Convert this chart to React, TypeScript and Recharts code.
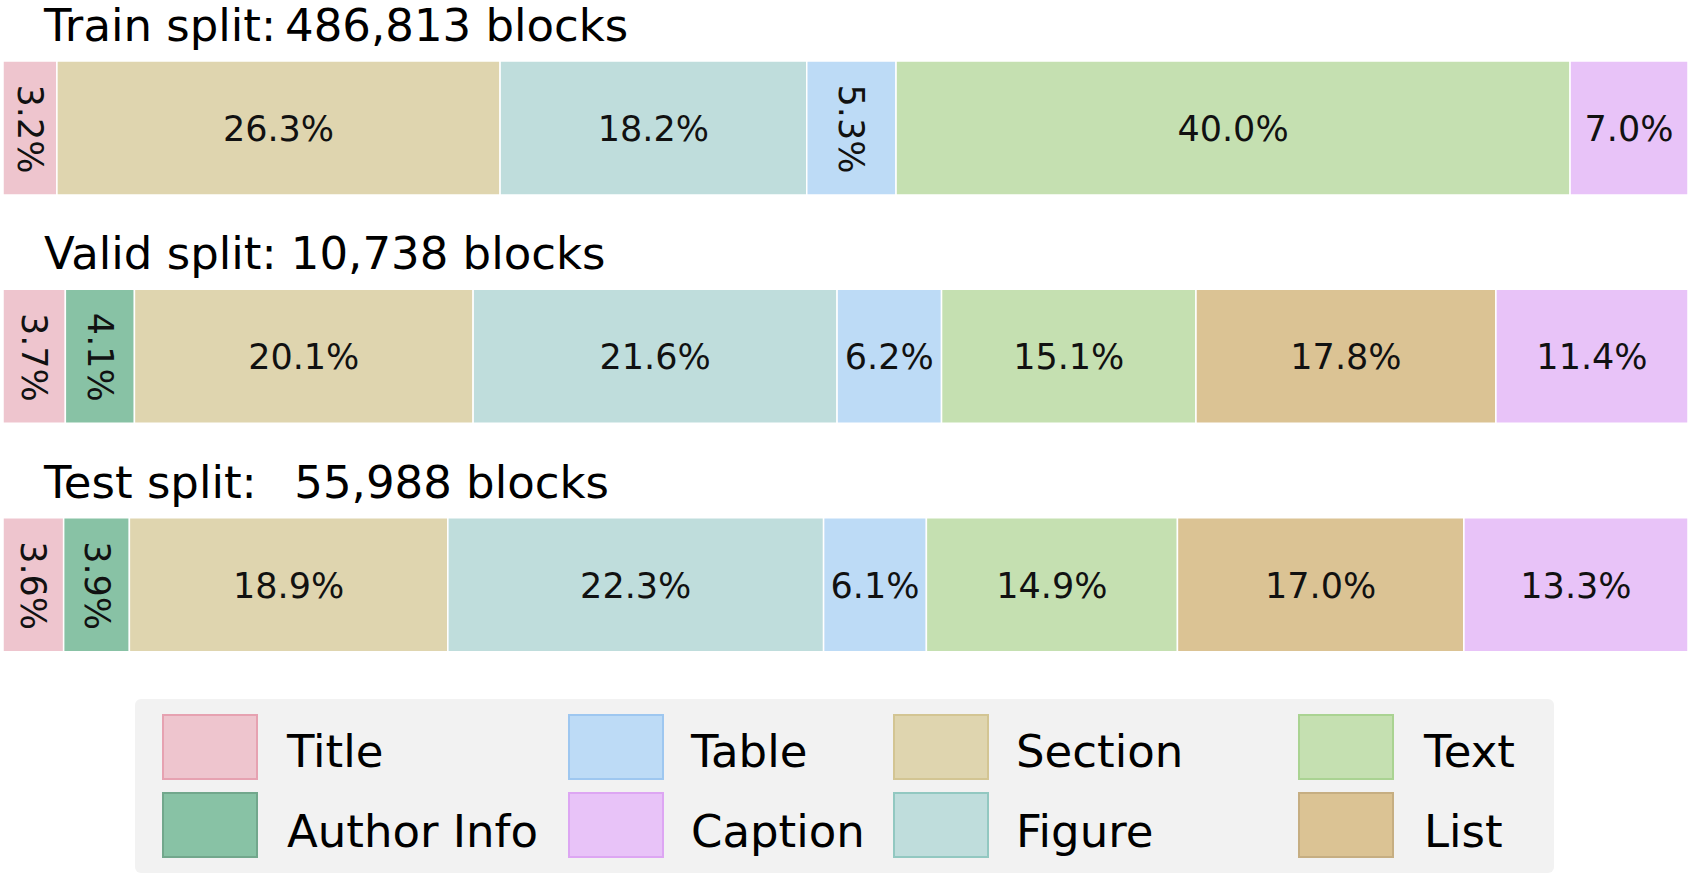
import React from 'react';
import { BarChart, Bar, XAxis, YAxis, LabelList, Legend } from 'recharts';

const splitTitles = ['Train split:\u2009486,813 blocks', 'Valid split: 10,738 blocks', 'Test split:  \u200955,988 blocks'];
const seriesNames = ['Title', 'Author Info', 'Section', 'Figure', 'Table', 'Text', 'List', 'Caption'];
const titleValues = [3.2, 3.7, 3.6];
const authorValues = [0, 4.1, 3.9];
const sectionValues = [26.3, 20.1, 18.9];
const figureValues = [18.2, 21.6, 22.3];
const tableValues = [5.3, 6.2, 6.1];
const textValues = [40.0, 15.1, 14.9];
const listValues = [0, 17.8, 17.0];
const captionValues = [7.0, 11.4, 13.3];

const fills = ['#EEC5CE', '#88C2A5', '#DFD5AF', '#BFDDDC', '#BDDBF6', '#C5E0B1', '#DBC394', '#E8C3F8'];
const edges = ['#E6A2B1', '#72A78C', '#D3C593', '#92C8C1', '#9EC7F0', '#AAD392', '#C6AE82', '#DDA6F3'];
const legendOrder = ['Title', 'Author Info', 'Table', 'Caption', 'Section', 'Figure', 'Text', 'List'];

const seriesValues = [titleValues, authorValues, sectionValues, figureValues, tableValues, textValues, listValues, captionValues];
const data = splitTitles.map((name, i) => {
  const row: any = { name };
  seriesNames.forEach((s, j) => { row[s] = seriesValues[j][i]; });
  return row;
});

const FONT = '"DejaVu Sans", sans-serif';
const BAR = 134;

const SegLabel = (props: any) => {
  const { x, y, width, height, value } = props;
  if (!value) return null;
  const cx = x + width / 2;
  const cy = y + height / 2 + 1;
  const txt = `${Number(value).toFixed(1)}%`;
  if (value < 6) {
    return (
      <text x={cx} y={cy} transform={`rotate(90 ${cx} ${cy})`} textAnchor="middle" dominantBaseline="central"
        fontFamily={FONT} fontSize={35} fill="#111">{txt}</text>
    );
  }
  return (
    <text x={cx} y={cy} textAnchor="middle" dominantBaseline="central" fontFamily={FONT} fontSize={35} fill="#111">{txt}</text>
  );
};

const SplitTitle = (props: any) => {
  const { y, value } = props;
  return (
    <text x={44} y={y - 20} textAnchor="start" fontFamily={FONT} fontSize={45} fill="#000"
      style={{ whiteSpace: 'pre' }} xmlSpace="preserve">{value}</text>
  );
};

const colX = [27, 433, 758, 1163];
const textX = [152, 556, 881, 1289];
const rowY = [15, 93];
const baseY = [68, 148];

const LegendBox = () => (
  <div style={{ position: 'relative', width: 1688, height: 176 }}>
    <div style={{ position: 'absolute', left: 132, top: 0, width: 1419, height: 174, background: '#F2F2F2', borderRadius: 6 }}>
      <svg width={1419} height={174} style={{ display: 'block' }}>
        {legendOrder.map((name, k) => {
          const col = Math.floor(k / 2);
          const row = k % 2;
          const idx = seriesNames.indexOf(name);
          return (
            <g key={name}>
              <rect x={colX[col] + 1} y={rowY[row] + 1} width={94} height={64} fill={fills[idx]} stroke={edges[idx]} strokeWidth={2} />
              <text x={textX[col]} y={baseY[row]} fontFamily={FONT} fontSize={45} fill="#000">{name}</text>
            </g>
          );
        })}
      </svg>
    </div>
  </div>
);

export default function App() {
  return (
    <div style={{ position: 'absolute', left: 0, top: 0, background: '#fff' }}>
      <BarChart width={1694} height={883} data={data} layout="vertical"
        margin={{ top: 14, right: 6, bottom: 8, left: 3 }} barSize={BAR}>
        <XAxis type="number" domain={[0, 100]} hide />
        <YAxis type="category" dataKey="name" hide />
        {seriesNames.map((s, j) => (
          <Bar key={s} dataKey={s} stackId="a" fill={fills[j]} stroke="#FFFFFF" strokeWidth={1.5} isAnimationActive={false}>
            <LabelList dataKey={s} content={<SegLabel />} />
            {j === 0 && <LabelList dataKey="name" content={<SplitTitle />} />}
          </Bar>
        ))}
        <Legend verticalAlign="bottom" content={<LegendBox />} />
      </BarChart>
    </div>
  );
}
